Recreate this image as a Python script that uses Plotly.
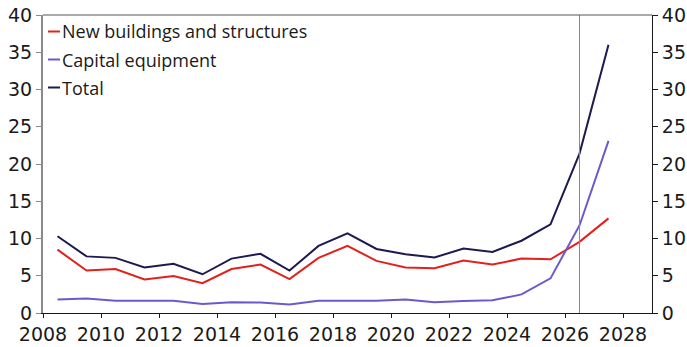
import plotly.graph_objects as go

# Annual values, plotted at mid-year
years = [2008.5 + i for i in range(20)]
new_buildings = [8.5, 5.7, 5.9, 4.5, 4.95, 4.0, 5.9, 6.5, 4.55, 7.4,
                 9.0, 7.0, 6.1, 6.0, 7.05, 6.5, 7.3, 7.2, 9.55, 12.7]
capital_equipment = [1.8, 1.95, 1.65, 1.65, 1.65, 1.2, 1.45, 1.4, 1.15, 1.65,
                     1.6, 1.65, 1.8, 1.45, 1.6, 1.7, 2.5, 4.65, 11.75, 23.1]
total = [10.3, 7.6, 7.4, 6.1, 6.6, 5.2, 7.3, 7.95, 5.7, 9.0,
         10.7, 8.6, 7.9, 7.45, 8.66, 8.2, 9.7, 11.9, 21.4, 36.0]
forecast_start = 2026.5

series_names = ["New buildings and structures", "Capital equipment", "Total"]
series_colors = ["#e3201b", "#6a5acd", "#1c1a4f"]
series_values = [new_buildings, capital_equipment, total]

W, H = 687, 347
L, R, T, B = 43, 35, 15, 34
plot_w, plot_h = W - L - R, H - T - B


def px_x(px):
    return (px - L) / plot_w


def px_y(py):
    return (H - B - py) / plot_h


fig = go.Figure()
for name, vals, color in zip(series_names, series_values, series_colors):
    fig.add_trace(go.Scatter(x=years, y=vals, name=name, mode="lines",
                             line=dict(color=color, width=2), showlegend=False))

# invisible trace to carry the right-hand axis
fig.add_trace(go.Scatter(x=[years[0]], y=[0], yaxis="y2", showlegend=False,
                         mode="markers", marker=dict(opacity=0), hoverinfo="skip"))

# forecast divider and top frame line
fig.add_shape(type="line", xref="x", yref="paper", x0=forecast_start, x1=forecast_start,
              y0=0, y1=1, line=dict(color="#8a8a8a", width=1))
fig.add_shape(type="line", xref="paper", yref="paper", x0=0, x1=1, y0=1, y1=1,
              line=dict(color="#555555", width=1))

# compact key in the top-left corner
for i, (name, color) in enumerate(zip(series_names, series_colors)):
    yc = 31.5 + 28 * i
    fig.add_shape(type="line", xref="paper", yref="paper",
                  x0=px_x(48), x1=px_x(60), y0=px_y(yc), y1=px_y(yc),
                  line=dict(color=color, width=2))
    fig.add_annotation(xref="paper", yref="paper", x=px_x(60), y=px_y(yc),
                       xanchor="left", yanchor="middle", showarrow=False,
                       text=name, font=dict(family="Open Sans", size=18, color="#1a1a1a"))

tick_font = dict(family="DejaVu Sans, sans-serif", size=19, color="#1a1a1a")
fig.update_layout(
    width=W, height=H,
    margin=dict(l=L, r=R, t=T, b=B),
    paper_bgcolor="white", plot_bgcolor="white",
    font=dict(family="Open Sans, sans-serif", color="#1a1a1a"),
    showlegend=False,
    xaxis=dict(range=[2008, 2029], dtick=2, tick0=2008, showgrid=False, zeroline=False,
               showline=True, linecolor="#1a1a1a", linewidth=1, automargin=False,
               ticks="outside", ticklen=4, tickcolor="#1a1a1a", tickfont=tick_font),
    yaxis=dict(range=[0, 40], dtick=5, showgrid=False, zeroline=False,
               showline=True, linecolor="#8a8a8a", linewidth=2, automargin=False,
               ticks="outside", ticklen=5, tickcolor="#8a8a8a", tickfont=tick_font),
    yaxis2=dict(range=[0, 40], dtick=5, overlaying="y", side="right", showgrid=False,
                zeroline=False, showline=True, linecolor="#1a1a1a", linewidth=1,
                automargin=False,
                ticks="outside", ticklen=5, tickcolor="#1a1a1a", tickfont=tick_font),
)

fig.write_html("out.html")
